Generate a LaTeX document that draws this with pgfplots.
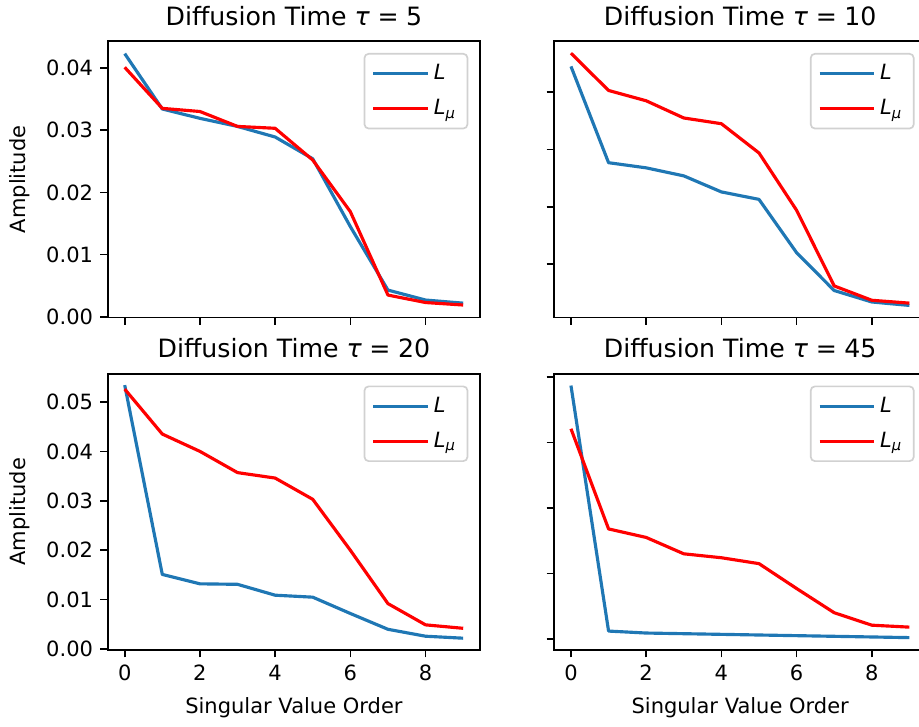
\documentclass[border=0pt]{standalone}
\usepackage{fontspec}
\setmainfont{DejaVu Sans}
\usepackage{pgfplots}
\usepackage{pgfplotstable}
\pgfplotsset{compat=1.18}

\definecolor{mplblue}{HTML}{1F77B4}
\definecolor{mplred}{HTML}{FF0000}

% amplitudes per diffusion time
\pgfplotstableread{
x L Lmu
0 0.0423 0.0401
1 0.0334 0.0335
2 0.0319 0.0330
3 0.0306 0.0306
4 0.0289 0.0303
5 0.0254 0.0252
6 0.0145 0.0169
7 0.0043 0.0035
8 0.0027 0.0023
9 0.0022 0.0019
}\tauFive
\pgfplotstableread{
x L Lmu
0 0.0445 0.0468
1 0.0277 0.0403
2 0.0268 0.0385
3 0.0254 0.0355
4 0.0226 0.0345
5 0.0213 0.0294
6 0.0120 0.0194
7 0.0054 0.0062
8 0.0034 0.0037
9 0.0028 0.0032
}\tauTen
\pgfplotstableread{
x L Lmu
0 0.0534 0.0526
1 0.0151 0.0435
2 0.0132 0.0400
3 0.0131 0.0357
4 0.0109 0.0346
5 0.0105 0.0303
6 0.0072 0.0200
7 0.0040 0.0092
8 0.0026 0.0049
9 0.0022 0.0042
}\tauTwenty
\pgfplotstableread{
x L Lmu
0 0.0387 0.0321
1 0.0012 0.0168
2 0.0009 0.0155
3 0.0008 0.0130
4 0.0007 0.0124
5 0.0006 0.0115
6 0.0005 0.0077
7 0.0004 0.0040
8 0.0003 0.0021
9 0.0002 0.0018
}\tauFortyFive

\pgfplotsset{
  panel/.style={
    anchor=south west,
    scale only axis,
    width=177.2pt, height=131.5pt,
    xmin=-0.45, xmax=9.45,
    xtick={0,2,4,6,8},
    tick align=outside,
    tick pos=left,
    major tick length=3.5pt,
    every tick/.style={black, line width=0.8pt},
    axis line style={line width=0.8pt},
    scaled y ticks=false,
    tick label style={font=\fontsize{10}{12}\selectfont},
    /pgf/number format/assume math mode=true,
    yticklabel style={/pgf/number format/.cd, fixed, fixed zerofill, precision=2},
    xticklabel style={/pgf/number format/.cd, fixed, precision=0},
    label style={font=\fontsize{10}{12}\selectfont},
    ylabel style={at={(axis description cs:-0.2212,0.5)}, anchor=base, inner sep=0pt},
    xlabel style={at={(axis description cs:0.5,-0.2281)}, anchor=base, inner sep=0pt},
    every axis title shift=0pt,
    title style={at={(axis description cs:0.5,1)}, anchor=base, yshift=7.6pt, inner sep=0pt,
      font=\fontsize{12}{14}\selectfont},
    legend style={at={(axis description cs:1,1)}, xshift=-5.6pt, yshift=-5.6pt,
      anchor=north east, draw=black!18, rounded corners=2pt, line width=0.8pt,
      fill=white, fill opacity=0.8, text opacity=1, draw opacity=1,
      font=\fontsize{10}{12}\selectfont, inner xsep=3.5pt, inner ysep=3pt, row sep=4pt},
    legend cell align=left,
    legend image code/.code={\draw[#1] (0pt,0pt) -- (26pt,0pt);},
    every axis plot/.append style={line width=1.5pt, line join=round, no markers},
  },
}

\newcommand{\ttl}[1]{Diffusion Time \textit{τ}\hspace{0.3em}=\hspace{0.3em}#1}

\begin{document}
\begin{tikzpicture}
\path[use as bounding box] (0,0) rectangle (437.4pt,345.6pt);

\begin{axis}[panel, at={(51.3pt,194.5pt)},
    ymin=-0.0001, ymax=0.0443, ytick={0,0.01,0.02,0.03,0.04},
    xticklabels={}, ylabel={Amplitude}, title={\ttl{5}}]
\addplot[mplblue] table[x=x, y=L] {\tauFive};
\addplot[mplred] table[x=x, y=Lmu] {\tauFive};
\legend{\textit{L}, \textit{L}\textsubscript{\textit{μ}}}
\end{axis}

\begin{axis}[panel, at={(263.7pt,194.5pt)},
    ymin=0.0007, ymax=0.0489, ytick={0.01,0.02,0.03,0.04},
    xticklabels={}, yticklabels={}, title={\ttl{10}}]
\addplot[mplblue] table[x=x, y=L] {\tauTen};
\addplot[mplred] table[x=x, y=Lmu] {\tauTen};
\legend{\textit{L}, \textit{L}\textsubscript{\textit{μ}}}
\end{axis}

\begin{axis}[panel, at={(51.3pt,36.2pt)},
    ymin=-0.0002, ymax=0.0557, ytick={0,0.01,0.02,0.03,0.04,0.05},
    ylabel={Amplitude}, xlabel={Singular Value Order}, title={\ttl{20}}]
\addplot[mplblue] table[x=x, y=L] {\tauTwenty};
\addplot[mplred] table[x=x, y=Lmu] {\tauTwenty};
\legend{\textit{L}, \textit{L}\textsubscript{\textit{μ}}}
\end{axis}

\begin{axis}[panel, at={(263.7pt,36.2pt)},
    ymin=-0.0017, ymax=0.0405, ytick={0,0.01,0.02,0.03,0.04},
    yticklabels={}, xlabel={Singular Value Order}, title={\ttl{45}}]
\addplot[mplblue] table[x=x, y=L] {\tauFortyFive};
\addplot[mplred] table[x=x, y=Lmu] {\tauFortyFive};
\legend{\textit{L}, \textit{L}\textsubscript{\textit{μ}}}
\end{axis}
\end{tikzpicture}
\end{document}
